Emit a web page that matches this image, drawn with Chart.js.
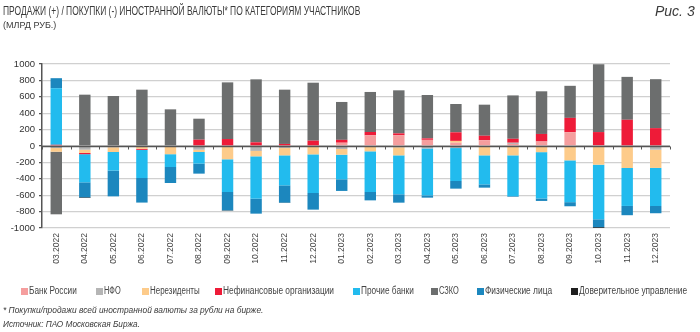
<!DOCTYPE html>
<html><head><meta charset="utf-8">
<script src="https://cdn.jsdelivr.net/npm/chart.js@4/dist/chart.umd.min.js"></script>
<style>
html,body{margin:0;padding:0;background:#fff;}
#wrap{position:relative;width:700px;height:332px;overflow:hidden;font-family:"Liberation Sans","Arial",sans-serif;color:#3a3a3a;}
canvas{position:absolute;left:0;top:0;}
.t{position:absolute;white-space:nowrap;transform-origin:0 0;}
#title{left:3px;top:4px;font-size:12.5px;}
#sub{left:3px;top:20px;font-size:9px;}
#fig{left:655px;top:3px;font-size:14px;font-style:italic;}
.lb{position:absolute;top:288px;width:7px;height:7px;}
.lt{position:absolute;top:285px;font-size:10px;color:#444;white-space:nowrap;transform-origin:0 0;}
#n1{left:3px;top:304px;font-size:9.5px;font-style:italic;}
#n2{left:3px;top:318px;font-size:9.5px;font-style:italic;}
</style></head><body>
<div id="wrap">
<canvas id="c" width="700" height="332"></canvas>
<div class="t" id="title">ПРОДАЖИ (+) / ПОКУПКИ (-) ИНОСТРАННОЙ ВАЛЮТЫ* ПО КАТЕГОРИЯМ УЧАСТНИКОВ</div>
<div class="t" id="sub">(МЛРД РУБ.)</div>
<div class="t" id="fig">Рис. 3</div>
<div class="t" id="n1">* Покупки/продажи всей иностранной валюты за рубли на бирже.</div>
<div class="t" id="n2">Источник: ПАО Московская Биржа.</div>
</div>
<script>
const categories = ["03.2022","04.2022","05.2022","06.2022","07.2022","08.2022","09.2022","10.2022","11.2022","12.2022","01.2023","02.2023","03.2023","04.2023","05.2023","06.2023","07.2023","08.2023","09.2023","10.2023","11.2023","12.2023"];
const bankRossii = [0,0,0,0,0,0,0,0,0,0,40,130,130,75,40,70,25,55,168,10,0,0];
const nfo        = [-25,-45,-15,0,-10,-45,-12,-60,-25,-12,-37,0,-15,-30,-25,0,15,0,0,0,0,-45];
const nerez      = [-45,-40,-58,-35,-90,-28,-150,-66,-89,-90,-69,-65,-99,0,22,-114,-114,-75,-175,-228,-268,-222];
const nefin      = [15,-15,0,-12,0,77,85,45,25,65,35,41,24,18,105,55,48,92,175,160,320,218];
const prochie    = [690,-343,-227,-343,-156,-142,-399,-516,-366,-471,-300,-496,-475,-572,-402,-354,-496,-565,-510,-666,-463,-465];
const szko       = [-763,626,610,687,447,256,691,768,662,707,462,488,525,529,345,379,529,520,391,826,523,597];
const fiz        = [122,-183,-314,-300,-195,-122,-224,-183,-211,-203,-142,-102,-102,-28,-93,-40,-8,-30,-50,-96,-113,-88];
const dov        = [0,-8,0,0,0,0,-5,0,-4,0,0,0,0,0,0,0,0,0,0,-10,0,0];
const yTicks = [-1000,-800,-600,-400,-200,0,200,400,600,800,1000];

const series = [
  {label:"Банк России", data:bankRossii, color:"#F59E9E"},
  {label:"НФО", data:nfo, color:"#B5B5B5"},
  {label:"Нерезиденты", data:nerez, color:"#FDCB8A"},
  {label:"Нефинансовые организации", data:nefin, color:"#EE1B38"},
  {label:"Прочие банки", data:prochie, color:"#22BBEE"},
  {label:"СЗКО", data:szko, color:"#6C6E6E"},
  {label:"Физические лица", data:fiz, color:"#1C87BE"},
  {label:"Доверительное управление", data:dov, color:"#1E1E1E"}
];

const wrap = document.getElementById('wrap');
function fit(el, w){ el.style.transform = 'scaleX(' + (w/el.offsetWidth) + ')'; }
const lgX = [21,96,142,215,353,431,477,571];
const lgW = [48,17,50,111,53,20,67,108];
series.forEach((s,i)=>{
  const b=document.createElement('div'); b.className='lb'; b.style.left=lgX[i]+'px'; b.style.background=s.color; wrap.appendChild(b);
  const t=document.createElement('div'); t.className='lt'; t.style.left=(lgX[i]+8)+'px'; t.textContent=s.label; wrap.appendChild(t);
  fit(t, lgW[i]);
});
fit(document.getElementById('title'), 357);
fit(document.getElementById('sub'), 53);
fit(document.getElementById('n1'), 260);
fit(document.getElementById('n2'), 137);

const zeroPlugin = {
  id:'zero',
  afterDatasetsDraw(chart){
    const {ctx, chartArea:a, scales:{x,y}} = chart;
    const y0 = Math.round(y.getPixelForValue(0))+0.5;
    ctx.save();
    ctx.strokeStyle='#555'; ctx.lineWidth=1.5;
    ctx.beginPath(); ctx.moveTo(a.left,y0); ctx.lineTo(a.right,y0); ctx.stroke();
    ctx.lineWidth=1;
    const n = categories.length;
    for(let i=0;i<=n;i++){
      const px = Math.round(a.left + (a.right-a.left)*i/n)+0.5;
      ctx.beginPath(); ctx.moveTo(px,y0); ctx.lineTo(px,y0+3); ctx.stroke();
    }
    ctx.restore();
  }
};

new Chart(document.getElementById('c'), {
  type:'bar',
  data:{labels:categories, datasets:series.map(s=>({label:s.label,data:s.data,backgroundColor:s.color,borderWidth:0,barPercentage:0.4,categoryPercentage:1}))},
  options:{
    responsive:false, animation:false,
    layout:{padding:{top:64,right:30,left:0,bottom:0}},
    plugins:{legend:{display:false},tooltip:{enabled:false}},
    scales:{
      x:{stacked:true,
         grid:{display:false,drawTicks:false},
         border:{display:false},
         ticks:{autoSkip:false,minRotation:90,maxRotation:90,padding:5,color:'#444',font:{family:'"Liberation Sans","Arial",sans-serif',size:8.5}},
         afterFit(s){s.height=104;}},
      y:{stacked:true,min:-1000,max:1000,
         afterBuildTicks(s){s.ticks=yTicks.map(v=>({value:v}));},
         grid:{color:'#D0D0D0',lineWidth:1.3,tickLength:3,tickColor:'#555'},
         border:{display:true,color:'#555',width:1.5},
         ticks:{padding:4,color:'#333',font:{family:'"Liberation Sans","Arial",sans-serif',size:9.5},callback:(v)=>String(v)},
         afterFit(s){s.width=42;}}
    }
  },
  plugins:[zeroPlugin]
});
</script>
</body></html>
